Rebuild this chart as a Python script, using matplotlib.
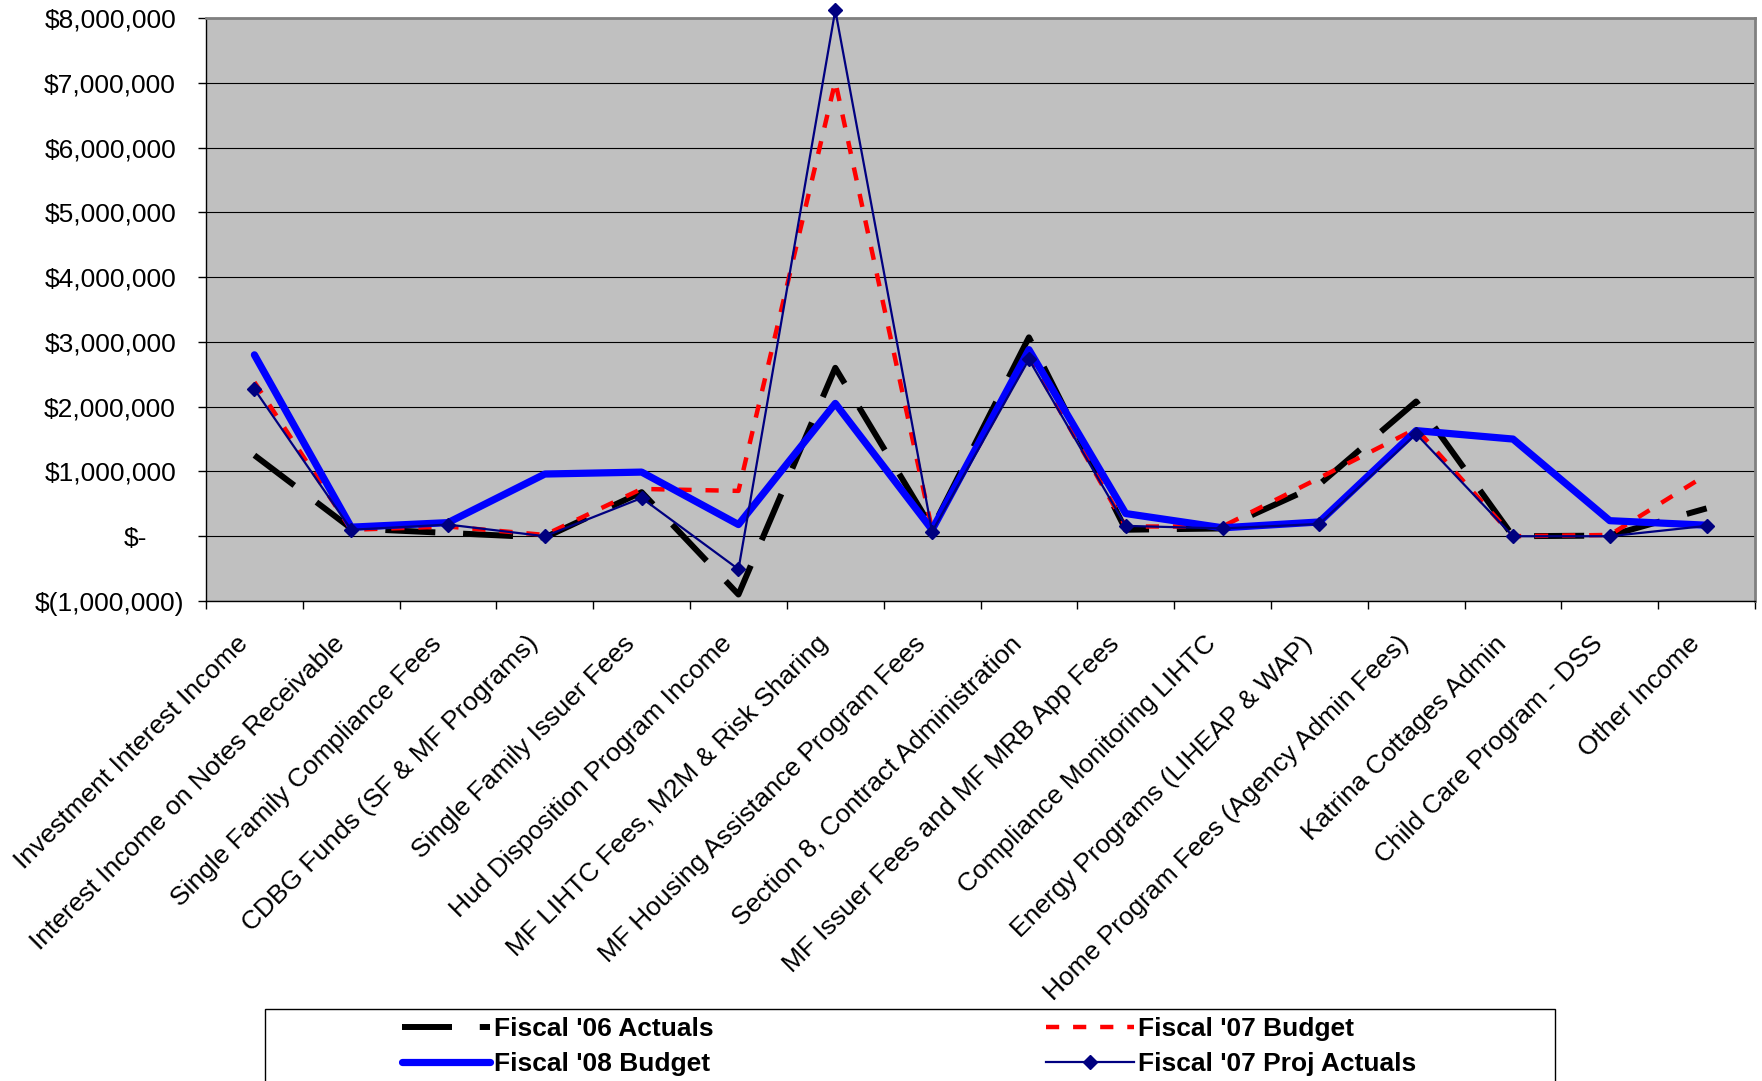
import matplotlib
matplotlib.use("Agg")
import matplotlib.pyplot as plt
from matplotlib.patches import Rectangle
from matplotlib.transforms import ScaledTranslation
import numpy as np

# ---- data -----------------------------------------------------------------
categories = [
    "Investment Interest Income",
    "Interest Income on Notes Receivable",
    "Single Family Compliance Fees",
    "CDBG Funds (SF & MF Programs)",
    "Single Family Issuer Fees",
    "Hud Disposition Program Income",
    "MF LIHTC Fees, M2M & Risk Sharing",
    "MF Housing Assistance Program Fees",
    "Section 8, Contract Administration",
    "MF Issuer Fees and MF MRB App Fees",
    "Compliance Monitoring LIHTC",
    "Energy Programs (LIHEAP & WAP)",
    "Home Program Fees (Agency Admin Fees)",
    "Katrina Cottages Admin",
    "Child Care Program - DSS",
    "Other Income",
]

fy06_actuals = [1250000, 120000, 50000, -20000, 680000, -900000, 2600000, 120000,
                3070000, 100000, 120000, 800000, 2080000, 0, 10000, 430000]
fy07_budget = [2380000, 100000, 150000, 20000, 730000, 700000, 7020000, 100000,
               2780000, 150000, 150000, 900000, 1660000, 0, 20000, 950000]
fy08_budget = [2800000, 140000, 210000, 960000, 990000, 180000, 2050000, 100000,
               2880000, 350000, 130000, 220000, 1630000, 1500000, 240000, 170000]
fy07_proj_actuals = [2270000, 100000, 180000, 0, 590000, -510000, 8120000, 70000,
                     2730000, 160000, 120000, 190000, 1580000, 0, 0, 160000]

series_labels = ["Fiscal '06 Actuals", "Fiscal '07 Budget",
                 "Fiscal '08 Budget", "Fiscal '07 Proj Actuals"]

y_ticks = [-1000000, 0, 1000000, 2000000, 3000000, 4000000,
           5000000, 6000000, 7000000, 8000000]
y_tick_labels = ["$(1,000,000)", "$-", "$1,000,000", "$2,000,000", "$3,000,000",
                 "$4,000,000", "$5,000,000", "$6,000,000", "$7,000,000", "$8,000,000"]

# ---- figure ---------------------------------------------------------------
plt.rcParams["font.family"] = ["Liberation Sans", "DejaVu Sans"]
plt.rcParams["lines.scale_dashes"] = False

W, H = 1762, 1081
fig = plt.figure(figsize=(W / 100, H / 100), dpi=100)
ax = fig.add_axes([206 / W, 1 - 601 / H, (1755 - 206) / W, (601 - 18) / H])
ax.set_facecolor("#C0C0C0")

x = np.arange(len(categories))

l06, = ax.plot(x, fy06_actuals, color="black", lw=4.3, dashes=(36, 20),
               dash_capstyle="butt", zorder=3, clip_on=False)
l07b, = ax.plot(x, fy07_budget, color="#FF0000", lw=3.2, dashes=(9.5, 10),
                dash_capstyle="butt", zorder=4, clip_on=False)
l08, = ax.plot(x, fy08_budget, color="#0000FF", lw=5.2, solid_joinstyle="round",
               solid_capstyle="round", zorder=5, clip_on=False)
l07p, = ax.plot(x, fy07_proj_actuals, color="#000080", lw=1.6, marker="D", ms=7.5,
                zorder=6, clip_on=False)

ax.set_xlim(-0.5, len(categories) - 0.5)
ax.set_ylim(-1000000, 8000000)

# y axis: gridlines, ticks and accounting-style labels
ax.set_yticks(y_ticks)
ax.set_yticklabels(y_tick_labels, fontsize=19)
ax.yaxis.grid(True, color="black", lw=0.8)
ax.set_axisbelow(True)
ax.tick_params(axis="y", direction="out", length=5.8, width=1, pad=10)
for lbl in ax.get_yticklabels():
    t = lbl.get_text()
    if t.startswith("$("):
        dx = 0
    elif t == "$-":
        dx = -37
    else:
        dx = -8
    lbl.set_transform(lbl.get_transform() + ScaledTranslation(dx / 100, 0, fig.dpi_scale_trans))

# x axis: tick marks between categories, rotated labels at category centres
ax.set_xticks(np.arange(-0.5, len(categories), 1))
ax.set_xticklabels([])
ax.tick_params(axis="x", which="major", direction="out", length=5.8, width=1)
ax.set_xticks(x, minor=True)
ax.set_xticklabels(categories, minor=True, rotation=45, ha="right", va="top",
                   rotation_mode="anchor", fontsize=19)
ax.tick_params(axis="x", which="minor", length=0, pad=22)
for lbl in ax.get_xticklabels(minor=True):
    lbl.set_transform(lbl.get_transform() + ScaledTranslation(-0.19, 0, fig.dpi_scale_trans))

for side in ("top", "right"):
    ax.spines[side].set_color("#808080")
    ax.spines[side].set_linewidth(2)
for side in ("left", "bottom"):
    ax.spines[side].set_color("black")
    ax.spines[side].set_linewidth(1)

# ---- legend ---------------------------------------------------------------
leg_kw = dict(loc="upper left", frameon=False, borderpad=0, borderaxespad=0,
              handlelength=3.33, handletextpad=0.15, labelspacing=0.42,
              prop={"weight": "bold", "size": 19})
leg1 = fig.legend([l06, l08], [series_labels[0], series_labels[2]],
                  bbox_to_anchor=(402 / W, 1 - 1017 / H), **leg_kw)
leg2 = fig.legend([l07b, l07p], [series_labels[1], series_labels[3]],
                  bbox_to_anchor=(1046 / W, 1 - 1017 / H), **leg_kw)

fig.add_artist(Rectangle((265 / W, -0.05), 1290 / W, 0.05 + 1 - 1009 / H,
                         transform=fig.transFigure, fill=False,
                         edgecolor="black", lw=1))

fig.savefig("out.png", dpi=100)
